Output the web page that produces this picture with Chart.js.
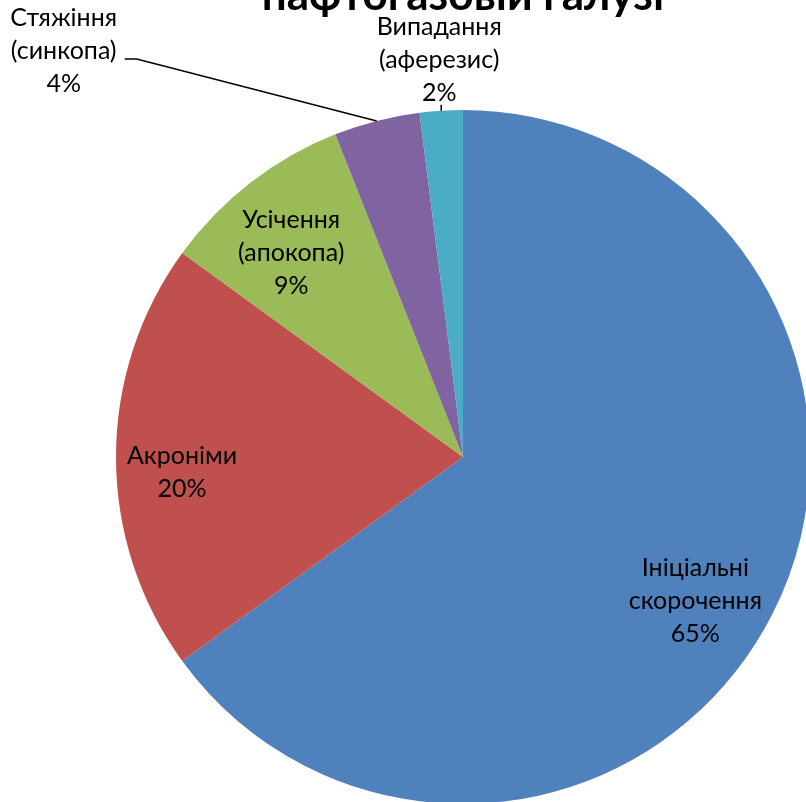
<!DOCTYPE html>
<html>
<head>
<meta charset="utf-8">
<script src="https://cdn.jsdelivr.net/npm/chart.js@4.4.1/dist/chart.umd.min.js"></script>
<style>
  html, body { margin: 0; padding: 0; background: #ffffff; overflow: hidden; width: 806px; height: 802px; }
  #wrap { position: absolute; left: 0; top: 0; width: 900px; height: 900px; }
</style>
</head>
<body>
<div id="wrap"><canvas id="chart" width="900" height="900"></canvas></div>
<script>
// Categories (each label split into lines) and their shares, %
const categories = [
  ['Ініціальні', 'скорочення'],
  ['Акроніми'],
  ['Усічення', '(апокопа)'],
  ['Стяжіння', '(синкопа)'],
  ['Випадання', '(аферезис)']
];
const shares = [65, 20, 9, 4, 2];
const sliceColors = ['#4F81BD', '#C0504D', '#9BBB59', '#8064A2', '#4BACC6'];
const titleText = 'нафтогазовій галузі';

const FONT = '"Lato", "Open Sans", sans-serif';
const LABEL_SIZE = 25;
const LINE_H = 33;

// How each data label is placed: inside labels sit at a fraction of the radius
// (plus a small nudge), outside labels are moved away from the rim and joined
// to it by a leader line.
const labelPlacement = [
  { inside: true, frac: 0.80, nudge: [-15, 18] },
  { inside: true, frac: 0.85, nudge: [14, 15] },
  { inside: true, frac: 0.77, nudge: [-8, 7] },
  { inside: false, elbow: [-240, -62], textDx: -313, textDy: -70, hook: 12 },
  { inside: false, elbow: [0, -6], textDx: -2, textDy: -51, hook: 0 }
];

const labelPlugin = {
  id: 'pieLabels',
  afterDatasetsDraw(chart) {
    const ctx = chart.ctx;
    const meta = chart.getDatasetMeta(0);
    ctx.save();
    ctx.font = LABEL_SIZE + 'px ' + FONT;
    ctx.fillStyle = '#000000';
    ctx.textAlign = 'center';
    ctx.textBaseline = 'middle';
    meta.data.forEach((arc, i) => {
      const p = arc.getProps(['x', 'y', 'startAngle', 'endAngle', 'outerRadius'], true);
      const mid = (p.startAngle + p.endAngle) / 2;
      const lines = categories[i].concat([shares[i] + '%']);
      const pl = labelPlacement[i];
      let cx, cy;
      if (pl.inside) {
        cx = p.x + Math.cos(mid) * p.outerRadius * pl.frac + pl.nudge[0];
        cy = p.y + Math.sin(mid) * p.outerRadius * pl.frac + pl.nudge[1];
      } else {
        const rx = p.x + Math.cos(mid) * p.outerRadius;
        const ry = p.y + Math.sin(mid) * p.outerRadius;
        const ex = rx + pl.elbow[0];
        const ey = ry + pl.elbow[1];
        ctx.beginPath();
        ctx.strokeStyle = '#000000';
        ctx.lineWidth = 1.5;
        ctx.moveTo(rx, ry);
        ctx.lineTo(ex, ey);
        if (pl.hook) ctx.lineTo(ex - pl.hook, ey);
        ctx.stroke();
        cx = rx + pl.textDx;
        cy = ry + pl.textDy;
      }
      const top = cy - (lines.length - 1) * LINE_H / 2;
      lines.forEach((t, k) => ctx.fillText(t, cx, top + k * LINE_H));
    });
    ctx.restore();
  }
};

const titlePlugin = {
  id: 'clippedTitle',
  afterDraw(chart) {
    const ctx = chart.ctx;
    ctx.save();
    ctx.font = 'bold 44px ' + FONT;
    ctx.fillStyle = '#000000';
    ctx.textAlign = 'center';
    ctx.textBaseline = 'alphabetic';
    ctx.fillText(titleText, 463, 10);
    ctx.restore();
  }
};

new Chart(document.getElementById('chart'), {
  type: 'pie',
  data: {
    labels: categories.map(c => c.join(' ')),
    datasets: [{
      data: shares,
      backgroundColor: sliceColors,
      borderWidth: 0
    }]
  },
  options: {
    responsive: false,
    animation: false,
    rotation: 0,
    layout: { padding: { left: 116, top: 110, right: 90, bottom: 96 } },
    plugins: {
      legend: { display: false },
      tooltip: { enabled: false },
      title: { display: false }
    }
  },
  plugins: [labelPlugin, titlePlugin]
});
</script>
</body>
</html>
